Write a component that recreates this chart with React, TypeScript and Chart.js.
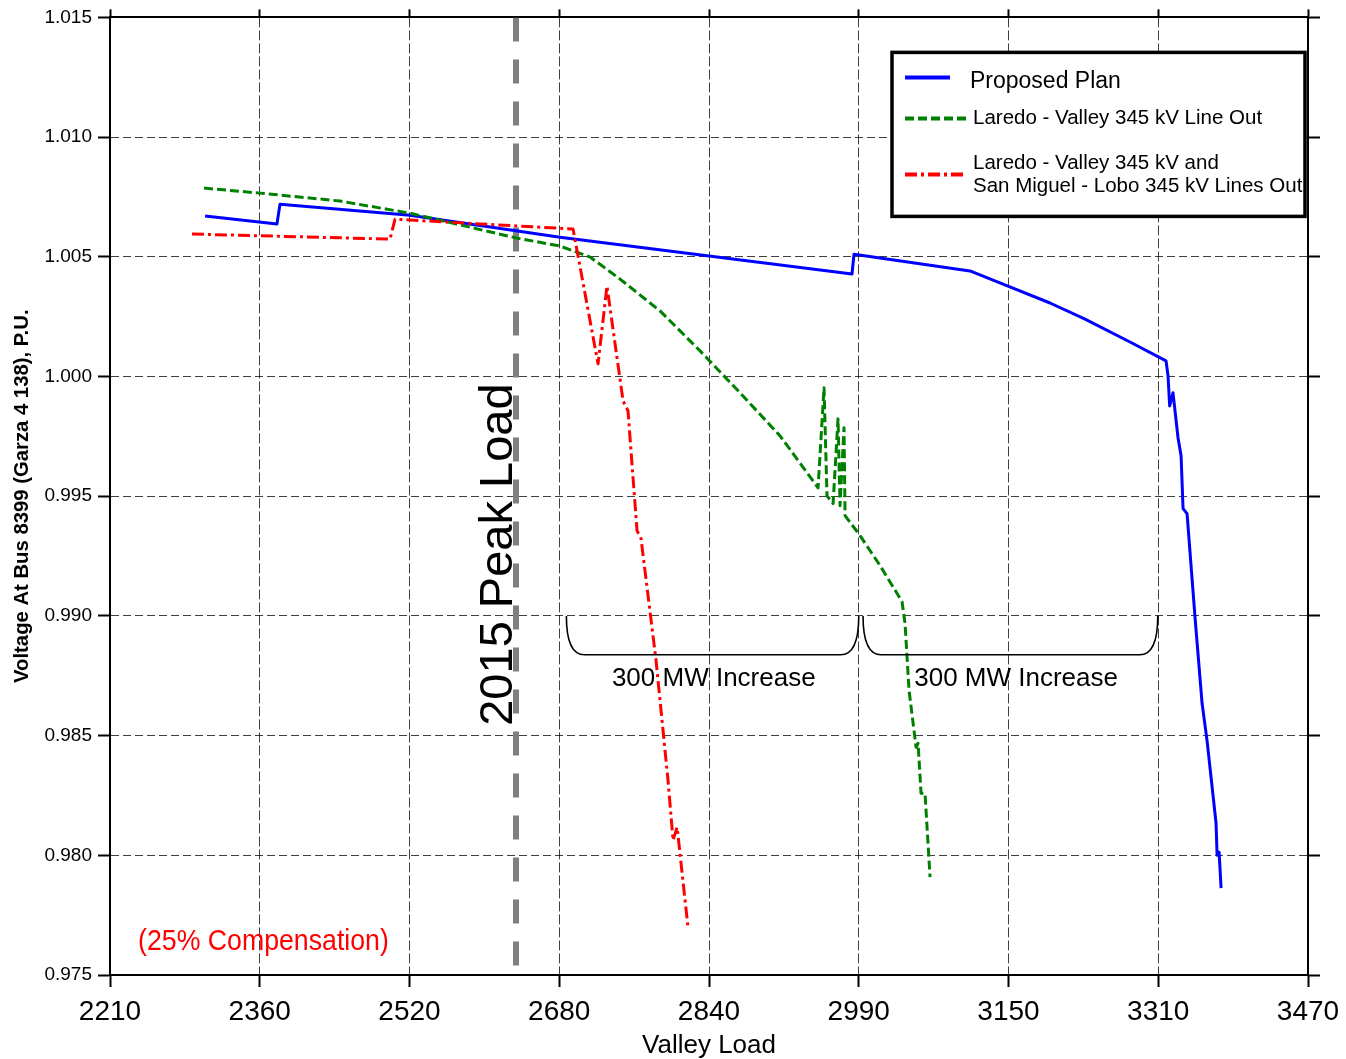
import React, { useEffect, useRef } from 'react';
import { Chart, registerables } from 'chart.js';

Chart.register(...registerables);

const FONT = "'Liberation Sans', Arial, Helvetica, sans-serif";

// Axis ticks
const xTickValues = [2210, 2367.5, 2525, 2682.5, 2840, 2997.5, 3155, 3312.5, 3470];
const xTickLabels = ['2210', '2360', '2520', '2680', '2840', '2990', '3150', '3310', '3470'];
const yTickValues = [0.975, 0.98, 0.985, 0.99, 0.995, 1.0, 1.005, 1.01, 1.015];
const yTickLabels = ['0.975', '0.980', '0.985', '0.990', '0.995', '1.000', '1.005', '1.010', '1.015'];

// Proposed Plan (blue)
const proposedX = [2310, 2385.6, 2388.8, 2525.5, 2683.3, 2990.4, 2992.5, 3114.5, 3146, 3198.7, 3235.5, 3282.8, 3320.7, 3322.8, 3324.5, 3328, 3333.3, 3336.5, 3338.6, 3342.8, 3351.2, 3358.6, 3363.8, 3373.3, 3374.4, 3376.5, 3378.6];
const proposedY = [1.0067, 1.00637, 1.0072, 1.00674, 1.00582, 1.00428, 1.00511, 1.00441, 1.00391, 1.00307, 1.0024, 1.00144, 1.00065, 1.00003, 0.99877, 0.99932, 0.99744, 0.99669, 0.99448, 0.99427, 0.98993, 0.98635, 0.9848, 0.98134, 0.98, 0.98013, 0.97863];

// Laredo - Valley 345 kV Line Out (green)
const lineOutX = [2308.9, 2367.8, 2451.9, 2525.5, 2638, 2683.3, 2714.9, 2746.4, 2788.5, 2830.6, 2872.6, 2914.7, 2954.7, 2961, 2964.1, 2970.5, 2975.7, 2977.8, 2982, 2983.1, 2998.9, 3019.9, 3043, 3046.2, 3050.4, 3057.8, 3059.9, 3063, 3067.2, 3072.5];
const lineOutY = [1.00787, 1.00766, 1.00733, 1.00682, 1.00578, 1.00545, 1.00499, 1.00407, 1.00274, 1.00107, 0.99932, 0.99752, 0.99535, 0.99953, 0.99502, 0.99469, 0.99823, 0.9946, 0.99786, 0.99419, 0.99335, 0.9921, 0.9906, 0.98968, 0.98689, 0.98451, 0.98468, 0.98259, 0.98259, 0.97909];

// Laredo - Valley and San Miguel - Lobo 345 kV Lines Out (red)
const linesOutX = [2296.2, 2504.5, 2509.8, 2697, 2723.3, 2732.7, 2749.6, 2754.8, 2764.3, 2768.5, 2784.3, 2796.9, 2802.2, 2806.4, 2807.4, 2818];
const linesOutY = [1.00595, 1.00574, 1.00657, 1.00616, 1.00053, 1.00378, 0.99898, 0.99857, 0.99356, 0.99323, 0.98814, 0.98313, 0.98063, 0.98117, 0.98084, 0.97696];

// 2015 peak load marker
const peakLoadX = [2637, 2637];
const peakLoadY = [1.015, 0.975];

const legendLabels = ['Proposed Plan', 'Laredo - Valley 345 kV Line Out', 'Laredo - Valley 345 kV and', 'San Miguel - Lobo 345 kV Lines Out'];
const braceStarts = [2690, 3002];
const braceEnds = [2997.5, 3312];
const braceLabelX = [2845, 3163];
const braceLabel = '300 MW Increase';
const peakLabel = '2015 Peak Load';
const noteLabel = '(25% Compensation)';
const yTitle = 'Voltage At Bus 8399 (Garza 4 138), P.U.';
const xTitle = 'Valley Load';

const toPoints = (xs: number[], ys: number[]) => xs.map((x, i) => ({ x, y: ys[i] }));

const annotationPlugin = {
  id: 'annotations',
  afterDatasetsDraw(chart: any) {
    const { ctx, scales } = chart;
    const x = scales.x;
    const y = scales.y;
    ctx.save();
    // braces
    const yt = y.getPixelForValue(0.99);
    const yb = y.getPixelForValue(0.98838);
    ctx.strokeStyle = '#000';
    ctx.lineWidth = 1.6;
    ctx.setLineDash([]);
    braceStarts.forEach((s, i) => {
      const x1 = x.getPixelForValue(s);
      const x2 = x.getPixelForValue(braceEnds[i]);
      const r = 18;
      ctx.beginPath();
      ctx.moveTo(x1, yt);
      ctx.quadraticCurveTo(x1, yb, x1 + r, yb);
      ctx.lineTo(x2 - r, yb);
      ctx.quadraticCurveTo(x2, yb, x2, yt);
      ctx.stroke();
      ctx.fillStyle = '#000';
      ctx.font = `26px ${FONT}`;
      ctx.textAlign = 'center';
      ctx.textBaseline = 'middle';
      ctx.fillText(braceLabel, x.getPixelForValue(braceLabelX[i]), y.getPixelForValue(0.98738));
    });
    // peak load label
    ctx.save();
    ctx.translate(x.getPixelForValue(2632.3), y.getPixelForValue(0.99256));
    ctx.rotate(-Math.PI / 2);
    ctx.font = `47px ${FONT}`;
    ctx.fillStyle = '#000';
    ctx.textAlign = 'center';
    ctx.textBaseline = 'alphabetic';
    ctx.fillText(peakLabel, 0, 0);
    ctx.restore();
    // compensation note
    ctx.save();
    ctx.translate(x.getPixelForValue(2239.5), y.getPixelForValue(0.97638));
    ctx.scale(0.89, 1);
    ctx.font = `30px ${FONT}`;
    ctx.fillStyle = '#ff0000';
    ctx.textAlign = 'left';
    ctx.textBaseline = 'middle';
    ctx.fillText(noteLabel, 0, 0);
    ctx.restore();
    ctx.restore();
  },
  afterDraw(chart: any) {
    const { ctx, chartArea } = chart;
    const R = chartArea.right - 3;
    const L = R - 413;
    const T = chartArea.top + 35;
    const B = T + 164;
    ctx.save();
    ctx.fillStyle = '#fff';
    ctx.fillRect(L, T, R - L, B - T);
    ctx.lineWidth = 3.5;
    ctx.strokeStyle = '#000';
    ctx.setLineDash([]);
    ctx.strokeRect(L, T, R - L, B - T);
    const line = (y: number, x2: number, color: string, dash: number[]) => {
      ctx.beginPath();
      ctx.setLineDash(dash);
      ctx.strokeStyle = color;
      ctx.lineWidth = 4;
      ctx.moveTo(L + 13, y);
      ctx.lineTo(x2, y);
      ctx.stroke();
    };
    line(T + 25, L + 58, '#0000ff', []);
    line(T + 66, L + 74, '#008000', [9, 4]);
    line(T + 122, L + 74, '#ff0000', [12, 4, 3, 4]);
    ctx.setLineDash([]);
    ctx.fillStyle = '#000';
    ctx.textAlign = 'left';
    ctx.textBaseline = 'middle';
    ctx.font = `23px ${FONT}`;
    ctx.fillText(legendLabels[0], L + 78, T + 29);
    ctx.font = `20.5px ${FONT}`;
    ctx.fillText(legendLabels[1], L + 81, T + 66);
    ctx.fillText(legendLabels[2], L + 81, T + 111);
    ctx.fillText(legendLabels[3], L + 81, T + 134);
    ctx.restore();
  },
};

export default function App() {
  const canvasRef = useRef<HTMLCanvasElement | null>(null);

  useEffect(() => {
    const canvas = canvasRef.current;
    if (!canvas) return;
    const gridColor = 'rgba(0,0,0,0.75)';
    const chart = new Chart(canvas, {
      type: 'line',
      data: {
        datasets: [
          {
            label: 'Proposed Plan',
            data: toPoints(proposedX, proposedY),
            borderColor: '#0000ff',
            borderWidth: 3,
            pointRadius: 0,
            tension: 0,
            borderJoinStyle: 'round',
            order: 2,
          },
          {
            label: 'Laredo - Valley 345 kV Line Out',
            data: toPoints(lineOutX, lineOutY),
            borderColor: '#008000',
            borderWidth: 3,
            borderDash: [9, 4],
            pointRadius: 0,
            tension: 0,
            borderJoinStyle: 'round',
            order: 1,
          },
          {
            label: 'Laredo - Valley 345 kV and San Miguel - Lobo 345 kV Lines Out',
            data: toPoints(linesOutX, linesOutY),
            borderColor: '#ff0000',
            borderWidth: 3,
            borderDash: [12, 4, 3, 4],
            pointRadius: 0,
            tension: 0,
            borderJoinStyle: 'round',
            order: 0,
          },
          {
            label: '2015 Peak Load',
            data: toPoints(peakLoadX, peakLoadY),
            borderColor: '#7f7f7f',
            borderWidth: 6,
            borderDash: [24, 18],
            borderCapStyle: 'butt',
            pointRadius: 0,
            order: 3,
          },
        ],
      } as any,
      options: {
        responsive: false,
        animation: false,
        devicePixelRatio: 1,
        layout: { padding: 0 },
        plugins: {
          legend: { display: false },
          tooltip: { enabled: false },
        },
        scales: {
          x: {
            type: 'linear',
            position: 'bottom',
            min: 2210,
            max: 3470,
            afterBuildTicks: (s: any) => { s.ticks = xTickValues.map((v) => ({ value: v })); },
            afterFit: (s: any) => { s.height = 84; },
            ticks: {
              autoSkip: false,
              maxRotation: 0,
              padding: 5,
              color: '#000',
              font: { family: FONT, size: 28, lineHeight: 1.45 },
              callback: (_v: any, i: number) => xTickLabels[i],
            },
            grid: { color: gridColor, lineWidth: 1, tickLength: 12, tickColor: '#000', tickWidth: 2 },
            border: { display: true, color: '#000', width: 2, dash: [10, 3] },
            title: { display: true, text: xTitle, color: '#000', font: { family: FONT, size: 26 }, padding: { top: 0, bottom: -2 } },
          },
          x2: {
            type: 'linear',
            position: 'top',
            min: 2210,
            max: 3470,
            afterBuildTicks: (s: any) => { s.ticks = xTickValues.map((v) => ({ value: v })); },
            afterFit: (s: any) => { s.height = 16; },
            ticks: { display: false },
            grid: { drawOnChartArea: false, tickLength: 8, tickColor: '#000', tickWidth: 2, color: '#000' },
            border: { display: true, color: '#000', width: 2 },
          },
          y: {
            type: 'linear',
            position: 'left',
            min: 0.975,
            max: 1.015,
            afterBuildTicks: (s: any) => { s.ticks = yTickValues.map((v) => ({ value: v })); },
            afterFit: (s: any) => { s.width = 110; },
            ticks: {
              autoSkip: false,
              padding: 6,
              color: '#000',
              font: { family: FONT, size: 19 },
              callback: (_v: any, i: number) => yTickLabels[i],
            },
            grid: { color: gridColor, lineWidth: 1, tickLength: 12, tickColor: '#000', tickWidth: 2 },
            border: { display: true, color: '#000', width: 2, dash: [8, 4] },
            title: { display: true, text: yTitle, color: '#000', font: { family: FONT, size: 20.3, weight: 'bold' }, padding: { top: 10, bottom: 0 } },
          },
          y2: {
            type: 'linear',
            position: 'right',
            min: 0.975,
            max: 1.015,
            afterBuildTicks: (s: any) => { s.ticks = yTickValues.map((v) => ({ value: v })); },
            afterFit: (s: any) => { s.width = 38; },
            ticks: { display: false },
            grid: { drawOnChartArea: false, tickLength: 12, tickColor: '#000', tickWidth: 2, color: '#000' },
            border: { display: true, color: '#000', width: 2 },
          },
        },
      } as any,
      plugins: [annotationPlugin],
    });
    return () => chart.destroy();
  }, []);

  return (
    <div style={{ position: 'absolute', left: 0, top: 0, width: 1346, height: 1059, background: '#fff' }}>
      <canvas ref={canvasRef} width={1346} height={1059} style={{ display: 'block', width: 1346, height: 1059 }} />
    </div>
  );
}
